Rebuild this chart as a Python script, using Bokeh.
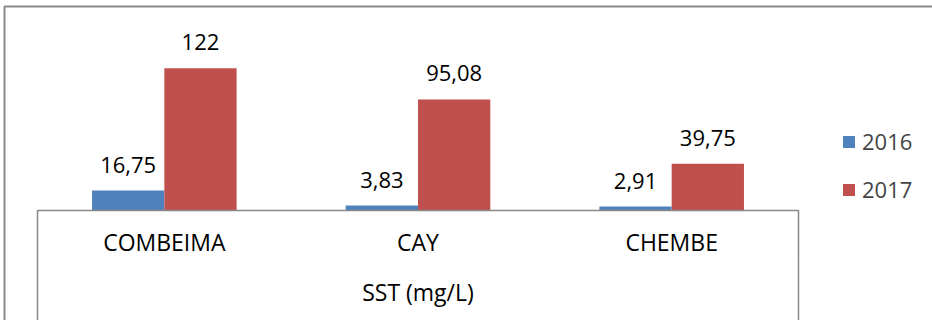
from bokeh.plotting import figure
from bokeh.models import (ColumnDataSource, Range1d, LinearAxis, FixedTicker,
                          LabelSet, Legend, LegendItem)
from bokeh.core.properties import value
from bokeh.embed import file_html
from bokeh.resources import INLINE

# ---- data ----
categories = ["COMBEIMA", "CAY", "CHEMBE"]
group_label = "SST (mg/L)"
series_names = ["2016", "2017"]
values_2016 = [16.75, 3.83, 2.91]
values_2017 = [122, 95.08, 39.75]
labels_2016 = ["16,75", "3,83", "2,91"]
labels_2017 = ["122", "95,08", "39,75"]

# ---- layout geometry (pixels) ----
W, H = 932, 320
area_left = 37          # left end of category axis box
area_width = 761        # width of category axis box
base_y = 209.5          # baseline pixel from top
px_per_unit = 1.1623    # vertical pixels per data unit
border_left_px = 4
border_top_px = 6
n = len(categories)
px_per_cat = area_width / n
x_start = -0.5 - area_left / px_per_cat
x_end = x_start + W / px_per_cat
y_end = base_y / px_per_unit
y_start = -(H - base_y) / px_per_unit
bx = x_start + border_left_px / px_per_cat
by = y_end - border_top_px / px_per_unit

bar_w = 0.285
off = bar_w / 2
FONT = "Open Sans"
GRAY = "#898989"
BLUE = "#4F81BD"
RED = "#C0504D"

xs = list(range(n))
src16 = ColumnDataSource(dict(x=[i - off for i in xs], v=values_2016, lbl=labels_2016))
src17 = ColumnDataSource(dict(x=[i + off for i in xs], v=values_2017, lbl=labels_2017))

p = figure(width=W, height=H, x_range=Range1d(x_start, x_end),
           y_range=Range1d(y_start, y_end), output_backend="svg",
           toolbar_location=None, x_axis_type=None, y_axis_type=None,
           min_border=0, min_border_left=0, min_border_right=0,
           min_border_top=0, min_border_bottom=0, outline_line_color=None)
p.background_fill_color = "white"
p.border_fill_color = "white"

# outer chart border (top and left)
p.line(x=[x_end, bx, bx], y=[by, by, y_start], line_color=GRAY, line_width=2)

# category box end lines
p.segment(x0=[-0.5, n - 0.5], y0=[0, 0], x1=[-0.5, n - 0.5], y1=[y_start, y_start],
          line_color=GRAY, line_width=1.5)

r16 = p.vbar(x="x", top="v", width=bar_w, source=src16, fill_color=BLUE, line_color=None)
r17 = p.vbar(x="x", top="v", width=bar_w, source=src17, fill_color=RED, line_color=None)

for src in (src16, src17):
    p.add_layout(LabelSet(x="x", y="v", text="lbl", source=src, text_align="center",
                          text_baseline="alphabetic", y_offset=18, text_font=value(FONT),
                          text_font_size=value("22px"), text_color="black"))

axis = LinearAxis(ticker=FixedTicker(ticks=xs),
                  major_label_overrides={i: c for i, c in zip(xs, categories)},
                  axis_label=group_label, fixed_location=0, bounds=(-0.5, n - 0.5))
axis.axis_line_color = GRAY
axis.axis_line_width = 1.5
axis.major_tick_line_color = None
axis.minor_tick_line_color = None
axis.major_label_standoff = 10
axis.major_label_text_font = FONT
axis.major_label_text_font_size = "23px"
axis.major_label_text_color = "black"
axis.axis_label_text_font = FONT
axis.axis_label_text_font_size = "23px"
axis.axis_label_text_font_style = "normal"
axis.axis_label_text_color = "black"
axis.axis_label_standoff = 14
p.add_layout(axis, "below")

legend = Legend(items=[LegendItem(label=series_names[0], renderers=[r16]),
                       LegendItem(label=series_names[1], renderers=[r17])],
                location=(841, 116), orientation="vertical",
                glyph_width=15, glyph_height=15, label_standoff=6,
                label_text_font=FONT, label_text_font_size="22px",
                spacing=18, padding=0, margin=0, border_line_color=None,
                background_fill_alpha=0)
p.add_layout(legend)

open("out.html", "w").write(file_html(p, INLINE))
